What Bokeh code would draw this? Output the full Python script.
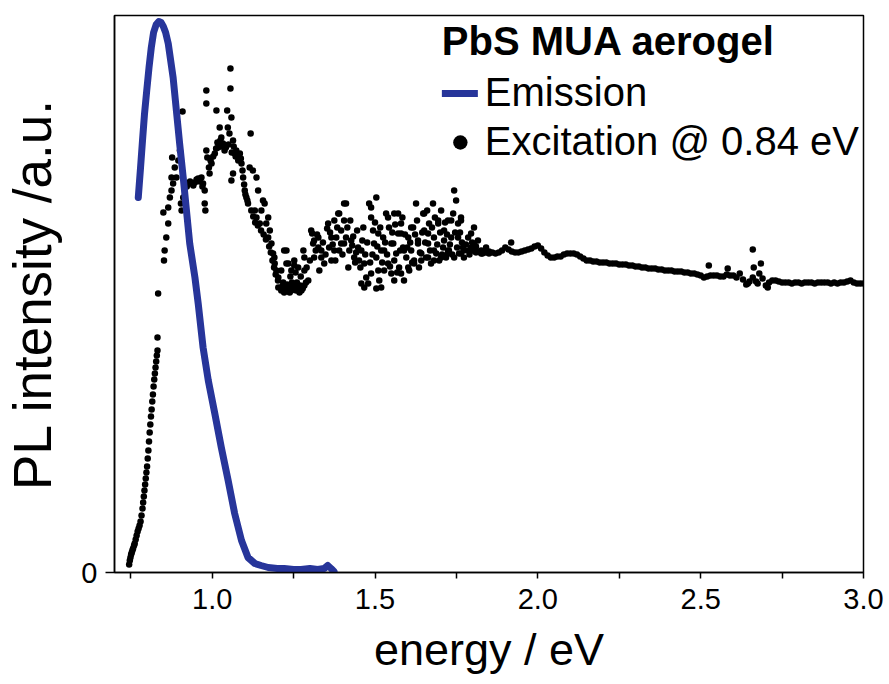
from bokeh.plotting import figure
from bokeh.models import Range1d, FixedTicker, Legend, LegendItem, NumeralTickFormatter
from bokeh.embed import file_html
from bokeh.resources import INLINE

FONT = "Liberation Sans"

# ---------------- data (energy in eV, PL intensity in a.u.) ----------------
em_energy = [0.773, 0.780, 0.786, 0.792, 0.799, 0.806, 0.813, 0.820, 0.828, 0.836,
             0.843, 0.850, 0.857, 0.865, 0.880, 0.890, 0.900, 0.911, 0.921, 0.931,
             0.947, 0.957, 0.972, 0.988, 1.008, 1.028, 1.049, 1.069, 1.090, 1.110,
             1.131, 1.150, 1.172, 1.200, 1.221, 1.250, 1.273, 1.300, 1.324, 1.344,
             1.355, 1.365, 1.374]
em_intensity = [375, 405, 432, 458, 482, 505, 525, 540, 548, 551,
                550, 546, 540, 529, 495, 462, 429, 395, 362, 329,
                295, 269, 225, 192, 159, 125, 92, 59, 32, 15,
                9, 7, 5, 4, 4, 3, 3, 4, 3, 4,
                7, 4, 1]

exc_rise = [(0.745, 8), (0.747, 12), (0.749, 15), (0.751, 18), (0.753, 20), (0.755, 22),
            (0.757, 24), (0.760, 27), (0.762, 29), (0.765, 33), (0.768, 37), (0.771, 41),
            (0.774, 44), (0.777, 47), (0.780, 51), (0.783, 57), (0.786, 64), (0.788, 70),
            (0.790, 76), (0.792, 82), (0.794, 88), (0.796, 94), (0.798, 100), (0.800, 106),
            (0.802, 114), (0.804, 122), (0.806, 131), (0.808, 140), (0.810, 148), (0.812, 156),
            (0.814, 163), (0.816, 171), (0.818, 178), (0.820, 186), (0.822, 193), (0.824, 199),
            (0.826, 205), (0.828, 211), (0.830, 217), (0.832, 222), (0.832, 235), (0.834, 279)]

exc_peak = [(0.850, 360), (0.852, 312), (0.854, 322), (0.859, 335), (0.865, 349), (0.865, 365),
            (0.870, 375), (0.875, 382), (0.875, 395), (0.877, 415), (0.880, 389), (0.885, 405),
            (0.890, 395), (0.896, 412), (0.901, 422), (0.909, 461), (0.904, 369), (0.906, 362),
            (0.911, 375), (0.916, 385), (0.922, 386), (0.927, 389), (0.932, 391), (0.937, 389),
            (0.942, 387), (0.947, 390), (0.952, 393), (0.957, 394), (0.962, 391), (0.967, 395),
            (0.970, 386), (0.972, 389), (0.977, 382), (0.977, 369), (0.979, 362), (0.982, 422),
            (0.985, 415), (0.982, 469), (0.982, 482), (0.990, 405), (0.992, 399), (0.995, 412),
            (0.998, 409), (1.003, 416), (1.008, 419), (1.012, 424), (1.013, 462), (1.016, 430),
            (1.018, 425), (1.023, 445), (1.025, 432), (1.028, 435), (1.030, 426), (1.033, 429),
            (1.038, 422), (1.042, 425), (1.046, 462), (1.048, 445), (1.050, 428), (1.053, 439),
            (1.056, 504), (1.056, 484), (1.059, 455), (1.060, 420), (1.064, 432), (1.066, 426),
            (1.069, 419), (1.072, 416), (1.074, 422), (1.064, 399), (1.059, 392), (1.078, 418),
            (1.080, 412), (1.085, 419), (1.088, 414), (1.090, 409), (1.093, 402), (1.095, 395),
            (1.098, 388), (1.100, 382), (1.102, 378), (1.105, 375), (1.108, 372), (1.110, 369),
            (1.115, 405), (1.118, 439), (1.120, 362), (1.125, 402), (1.126, 356), (1.131, 362),
            (1.132, 350), (1.136, 395), (1.136, 355), (1.141, 382), (1.140, 347), (1.146, 349),
            (1.150, 342), (1.151, 362), (1.156, 372), (1.158, 338), (1.161, 369), (1.165, 333),
            (1.166, 349), (1.172, 355), (1.172, 335), (1.175, 326), (1.177, 342), (1.180, 320),
            (1.182, 329), (1.185, 312), (1.187, 319), (1.190, 305), (1.192, 309), (1.195, 298),
            (1.197, 302), (1.202, 292)]

exc_trough = [(1.191, 315), (1.203, 295), (1.203, 285), (1.212, 302), (1.212, 282), (1.215, 286),
              (1.218, 290), (1.221, 280), (1.221, 322), (1.225, 284), (1.228, 322), (1.228, 309),
              (1.230, 288), (1.234, 284), (1.234, 309), (1.238, 280), (1.243, 282), (1.243, 302),
              (1.245, 290), (1.248, 286), (1.252, 284), (1.252, 312), (1.252, 307), (1.258, 282),
              (1.260, 290), (1.264, 285), (1.264, 305), (1.268, 280), (1.270, 287), (1.274, 282),
              (1.278, 284), (1.280, 322), (1.283, 287), (1.283, 302), (1.283, 315), (1.288, 290),
              (1.295, 292), (1.240, 296), (1.256, 300), (1.272, 296), (1.290, 305)]

exc_noisy = [(1.304, 342), (1.307, 339), (1.310, 329), (1.313, 315), (1.313, 332), (1.326, 335),
             (1.326, 325), (1.329, 302), (1.335, 322), (1.335, 315), (1.344, 309), (1.353, 344),
             (1.356, 349), (1.359, 325), (1.366, 312), (1.366, 335), (1.375, 352), (1.375, 322),
             (1.381, 335), (1.387, 359), (1.390, 322), (1.390, 359), (1.396, 329), (1.396, 342),
             (1.405, 369), (1.405, 352), (1.405, 329), (1.411, 335), (1.411, 369), (1.418, 305),
             (1.421, 322), (1.427, 332), (1.430, 327), (1.436, 315), (1.439, 310), (1.448, 325),
             (1.451, 312), (1.458, 322), (1.458, 289), (1.461, 332), (1.467, 309), (1.467, 285),
             (1.473, 295), (1.479, 289), (1.482, 369), (1.488, 355), (1.488, 365), (1.488, 299),
             (1.494, 342), (1.497, 329), (1.504, 375), (1.504, 315), (1.504, 284), (1.510, 302),
             (1.510, 339), (1.513, 292), (1.519, 285), (1.519, 322), (1.525, 335), (1.528, 322),
             (1.528, 302), (1.534, 359), (1.540, 309), (1.540, 355), (1.543, 345), (1.550, 299),
             (1.550, 329), (1.556, 329), (1.559, 359), (1.559, 292), (1.559, 312), (1.565, 319),
             (1.571, 339), (1.571, 359), (1.574, 305), (1.580, 349), (1.580, 299), (1.580, 339),
             (1.586, 325), (1.589, 292), (1.589, 322), (1.596, 315), (1.602, 335), (1.602, 305),
             (1.605, 302), (1.611, 322), (1.611, 345), (1.617, 345), (1.620, 312), (1.620, 309),
             (1.626, 369), (1.632, 332), (1.632, 329), (1.635, 305), (1.642, 319), (1.642, 312),
             (1.648, 359), (1.651, 342), (1.651, 359), (1.657, 315), (1.663, 329), (1.663, 315),
             (1.663, 339), (1.666, 349), (1.672, 309), (1.678, 369), (1.681, 335), (1.681, 312),
             (1.681, 322), (1.688, 319), (1.694, 352), (1.694, 349), (1.697, 312), (1.703, 362),
             (1.703, 315), (1.709, 325), (1.712, 342), (1.712, 332), (1.718, 315), (1.724, 352),
             (1.724, 319), (1.724, 322), (1.727, 322), (1.734, 335), (1.734, 352), (1.740, 359),
             (1.743, 382), (1.743, 315), (1.749, 372), (1.755, 349), (1.755, 335), (1.758, 319),
             (1.764, 355), (1.764, 319), (1.764, 352), (1.770, 325), (1.773, 315), (1.773, 322),
             (1.786, 335), (1.786, 322), (1.795, 325), (1.795, 339), (1.804, 345), (1.804, 322),
             (1.804, 329), (1.816, 332), (1.826, 319), (1.826, 322), (1.841, 325), (1.850, 319),
             (1.300, 312), (1.318, 322), (1.322, 338), (1.340, 330), (1.348, 318), (1.362, 340),
             (1.370, 328), (1.378, 312), (1.384, 345), (1.400, 318), (1.415, 345), (1.424, 352),
             (1.433, 336), (1.442, 320), (1.445, 342), (1.455, 305), (1.464, 345), (1.470, 318),
             (1.476, 330), (1.485, 310), (1.492, 318), (1.500, 350), (1.507, 326), (1.516, 345),
             (1.522, 310), (1.531, 330), (1.537, 318), (1.546, 306), (1.553, 340), (1.562, 348),
             (1.568, 300), (1.577, 322), (1.584, 355), (1.592, 338), (1.599, 325), (1.608, 330),
             (1.614, 310), (1.623, 338), (1.629, 352), (1.638, 320), (1.645, 340), (1.654, 330),
             (1.660, 362), (1.669, 322), (1.675, 345), (1.684, 355), (1.691, 328), (1.700, 340),
             (1.706, 318), (1.715, 350), (1.721, 338), (1.730, 328), (1.737, 318), (1.746, 340),
             (1.752, 325), (1.761, 340), (1.767, 330), (1.779, 328), (1.790, 318), (1.798, 330),
             (1.810, 326)]

exc_tail = [(1.80, 322), (1.81, 320), (1.82, 321), (1.83, 319), (1.84, 320), (1.85, 321),
            (1.86, 320), (1.87, 319), (1.88, 320), (1.89, 322), (1.90, 325), (1.91, 323),
            (1.918, 330), (1.92, 321), (1.93, 320), (1.94, 320), (1.95, 321), (1.96, 322),
            (1.97, 323), (1.98, 324), (1.99, 326), (2.00, 327), (2.01, 324), (2.02, 320),
            (2.03, 317), (2.04, 315), (2.05, 315), (2.06, 316), (2.07, 316), (2.08, 318),
            (2.09, 319), (2.10, 319), (2.11, 319), (2.12, 318), (2.13, 316), (2.14, 314),
            (2.15, 312), (2.16, 312), (2.17, 311), (2.18, 311), (2.19, 310), (2.20, 310),
            (2.21, 310), (2.22, 309), (2.23, 309), (2.24, 309), (2.25, 308), (2.26, 308),
            (2.27, 308), (2.28, 307), (2.29, 307), (2.30, 306), (2.31, 306), (2.32, 305),
            (2.33, 305), (2.34, 304), (2.35, 304), (2.36, 304), (2.37, 303), (2.38, 303),
            (2.39, 302), (2.40, 302), (2.41, 302), (2.42, 301), (2.43, 301), (2.44, 301),
            (2.45, 300), (2.46, 300), (2.47, 299), (2.48, 299), (2.49, 298), (2.50, 297),
            (2.51, 295), (2.525, 307), (2.52, 296), (2.53, 297), (2.54, 297), (2.55, 297),
            (2.56, 296), (2.57, 296), (2.583, 304), (2.58, 298), (2.59, 297), (2.60, 297),
            (2.61, 295), (2.62, 299), (2.63, 293), (2.64, 288), (2.645, 289), (2.65, 291),
            (2.66, 295), (2.66, 323), (2.663, 305), (2.67, 291), (2.675, 289), (2.68, 299),
            (2.685, 309), (2.69, 294), (2.70, 287), (2.706, 285), (2.71, 290), (2.72, 292),
            (2.73, 292), (2.74, 291), (2.75, 290), (2.76, 290), (2.77, 290), (2.78, 289),
            (2.79, 290), (2.80, 290), (2.81, 289), (2.82, 290), (2.83, 290), (2.84, 290),
            (2.85, 289), (2.86, 290), (2.87, 290), (2.88, 290), (2.89, 290), (2.90, 289),
            (2.91, 290), (2.92, 289), (2.93, 290), (2.94, 290), (2.95, 291), (2.96, 292),
            (2.97, 290), (2.98, 289), (2.99, 289), (3.00, 289)]

x_major_ticks = [1.0, 1.5, 2.0, 2.5, 3.0]
x_minor_ticks = [0.75, 1.25, 1.75, 2.25, 2.75]
y_ticks = [0]

title_text = "PbS MUA aerogel"
em_label = "Emission"
exc_label = "Excitation @ 0.84 eV"

exc_all = exc_rise + exc_peak + exc_trough + exc_noisy + exc_tail
exc_energy = [e for e, _ in exc_all]
exc_intensity = [i for _, i in exc_all]

# ---------------- figure ----------------
p = figure(width=889, height=684, output_backend="svg", toolbar_location=None,
           x_range=Range1d(0.7, 3.0), y_range=Range1d(0, 557),
           min_border_left=113, min_border_right=26, min_border_top=15,
           min_border_bottom=112)
p.grid.visible = False
p.outline_line_color = "black"
p.outline_line_width = 1.5
p.background_fill_color = "white"
p.border_fill_color = "white"

exc_r = p.scatter(exc_energy, exc_intensity, size=6.5, color="black", line_width=0)
em_r = p.line(em_energy, em_intensity, line_width=7, color="#27359a",
              line_cap="round", line_join="round")
# same excitation data, hidden in the plot; used only for a larger legend marker
exc_legend_r = p.scatter(exc_energy, exc_intensity, size=15, color="black",
                         line_width=0, visible=False)

# x axis
xa = p.xaxis[0]
xa.ticker = FixedTicker(ticks=x_major_ticks, minor_ticks=x_minor_ticks)
xa.formatter = NumeralTickFormatter(format="0.0")
xa.major_tick_in = 0
xa.major_tick_out = 6
xa.minor_tick_in = 0
xa.minor_tick_out = 6
xa.axis_line_width = 1.5
xa.major_tick_line_width = 1.5
xa.minor_tick_line_width = 1.5
xa.major_label_text_font = FONT
xa.major_label_text_font_size = "29px"
xa.major_label_text_color = "black"
xa.major_label_standoff = 10
xa.axis_label = "energy / eV"
xa.axis_label_text_font = FONT
xa.axis_label_text_font_size = "45px"
xa.axis_label_text_font_style = "normal"
xa.axis_label_text_color = "black"
xa.axis_label_standoff = 12

# y axis
ya = p.yaxis[0]
ya.ticker = FixedTicker(ticks=y_ticks, minor_ticks=[])
ya.major_tick_in = 0
ya.major_tick_out = 9
ya.axis_line_width = 1.5
ya.major_tick_line_width = 1.5
ya.major_label_text_font = FONT
ya.major_label_text_font_size = "29px"
ya.major_label_text_color = "black"
ya.major_label_standoff = 8
ya.axis_label = "PL intensity /a.u."
ya.axis_label_text_font = FONT
ya.axis_label_text_font_size = "53px"
ya.axis_label_text_font_style = "normal"
ya.axis_label_text_color = "black"
ya.axis_label_standoff = 16

legend = Legend(items=[LegendItem(label=em_label, renderers=[em_r]),
                       LegendItem(label=exc_label, renderers=[exc_legend_r])],
                location="top_right", title=title_text)
legend.title_text_font = FONT
legend.title_text_font_size = "40px"
legend.title_text_font_style = "bold"
legend.title_text_color = "black"
legend.title_standoff = 6
legend.label_text_font = FONT
legend.label_text_font_size = "40px"
legend.label_text_color = "black"
legend.border_line_color = None
legend.background_fill_alpha = 0
legend.inactive_fill_alpha = 0
legend.padding = 0
legend.margin = 4
legend.spacing = 4
legend.glyph_width = 36
legend.glyph_height = 42
legend.label_standoff = 7
p.add_layout(legend)

open("out.html", "w").write(file_html(p, INLINE))
